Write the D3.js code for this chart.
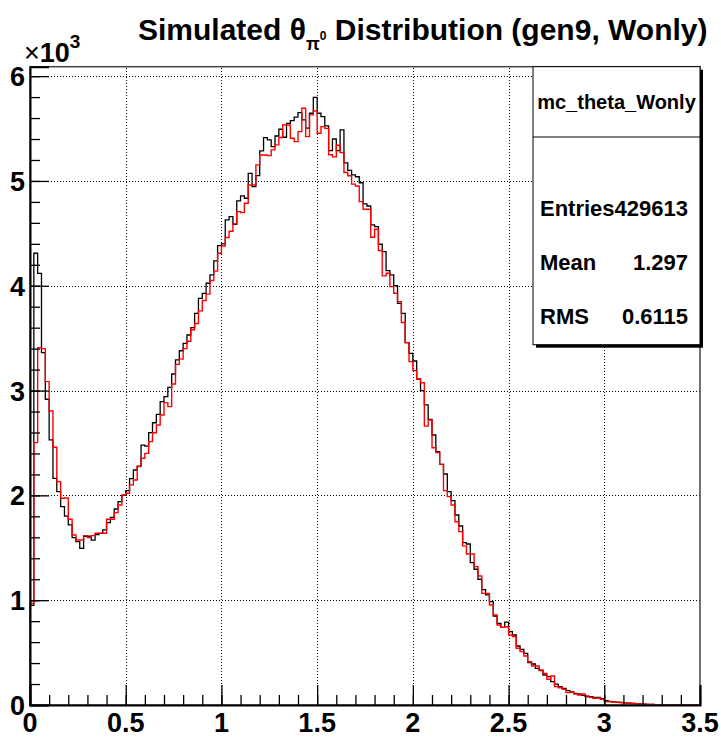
<!DOCTYPE html>
<html>
<head>
<meta charset="utf-8">
<script src="https://cdn.jsdelivr.net/npm/d3@7"></script>
<style>
  body { margin: 0; background: #fff; }
  svg text { font-family: "Liberation Sans", Arial, sans-serif; font-weight: bold; }
</style>
</head>
<body>
<div id="chartArea"></div>
<script>
// histogram binning (175 bins of 0.02 from 0 to 3.5)
var nBins = 175, xMin = 0, xMax = 3.5;

// mc_theta_Wonly (black)
var blackCounts = [950,4310,4119,3362,2917,2529,2163,2036,1892,1803,
  1718,1597,1559,1495,1610,1610,1574,1626,1638,1670,
  1740,1790,1870,1940,2000,2045,2160,2242,2280,2480,
  2470,2598,2693,2773,2894,2942,3031,3158,3292,3380,
  3450,3530,3600,3737,3880,3928,4024,4103,4237,4383,
  4400,4628,4660,4587,4809,4857,4835,5073,4946,5050,
  5286,5414,5391,5328,5429,5493,5417,5550,5576,5608,
  5652,5582,5503,5646,5798,5646,5614,5525,5290,5400,
  5290,5487,5172,5100,5057,5040,4983,4781,4761,4580,
  4564,4396,4326,4144,4103,4001,3832,3737,3457,3355,
  3282,3111,3000,2863,2725,2576,2417,2296,2204,2035,
  1950,1813,1708,1549,1536,1358,1295,1200,1100,1050,
  986,849,779,741,790,700,668,563,531,493,
  404,391,350,328,286,270,223,200,175,159,
  137,124,111,105,92,80,80,73,73,60,
  41,35,30,28,25,20,18,15,12,10,
  8,6,5,4,3,3,2,2,1,1,
  1,0,1,0,0];

// second histogram (red)
var redCounts = [970,2503,3410,3400,3085,2805,2459,2131,1972,1975,
  1772,1622,1574,1574,1616,1597,1616,1638,1640,1638,
  1772,1772,1835,1908,2004,2020,2100,2147,2274,2354,
  2401,2513,2598,2672,2767,2885,2847,3063,3250,3300,
  3400,3470,3580,3640,3760,3860,3920,4050,4140,4310,
  4380,4460,4520,4590,4707,4698,4787,4962,4962,5153,
  5248,5248,5242,5296,5344,5414,5534,5534,5407,5375,
  5471,5693,5423,5630,5668,5455,5518,5502,5250,5230,
  5340,5270,5080,5050,4970,4952,4803,4730,4730,4463,
  4539,4336,4094,4119,3992,3929,3849,3650,3457,3276,
  3190,3107,3075,2661,2719,2455,2408,2296,2045,1988,
  1908,1749,1654,1518,1441,1441,1320,1231,1065,1065,
  954,859,763,741,747,668,652,541,509,467,
  413,372,372,334,302,245,277,175,165,149,
  118,127,105,95,105,86,73,64,67,54,
  32,30,28,25,22,20,16,14,12,10,
  8,6,5,4,3,3,2,2,1,1,
  1,1,0,0,0];

var xTicks = [0, 0.5, 1, 1.5, 2, 2.5, 3, 3.5];
var xTickLabels = ["0", "0.5", "1", "1.5", "2", "2.5", "3", "3.5"];
var yTicks = [0, 1000, 2000, 3000, 4000, 5000, 6000];
var yTickLabels = ["0", "1", "2", "3", "4", "5", "6"];

var statsTitle = "mc_theta_Wonly";
var statsNames = ["Entries", "Mean", "RMS"];
var statsValues = ["429613", "1.297", "0.6115"];

var width = 721, height = 738;
var margin = {top: 66.7, right: 21, bottom: 33, left: 30};

var svg = d3.select('#chartArea').append('svg')
    .attr('width', width)
    .attr('height', height);

var x = d3.scaleLinear().domain([xMin, xMax]).range([margin.left, width - margin.right]);
var y = d3.scaleLinear().domain([0, 6090]).range([height - margin.bottom, margin.top]);

// grid
var grid = svg.append('g').attr('stroke', '#000').attr('stroke-width', 1).attr('stroke-dasharray', '1,2');
grid.selectAll('line.gx').data(xTicks.slice(1, -1)).enter().append('line')
    .attr('x1', function(d){ return Math.round(x(d)) + 0.5; })
    .attr('x2', function(d){ return Math.round(x(d)) + 0.5; })
    .attr('y1', y(0)).attr('y2', margin.top);
grid.selectAll('line.gy').data(yTicks.slice(1)).enter().append('line')
    .attr('y1', function(d){ return Math.round(y(d)) + 0.5; })
    .attr('y2', function(d){ return Math.round(y(d)) + 0.5; })
    .attr('x1', x(0)).attr('x2', x(xMax));

// histograms as step lines
var binW = (xMax - xMin) / nBins;
function stepPoints(counts) {
    var pts = [[xMin, 0]];
    counts.forEach(function(c, i){ pts.push([xMin + i * binW, c]); });
    pts.push([xMax, counts[counts.length - 1]]);
    return pts;
}
var line = d3.line()
    .x(function(d){ return x(d[0]); })
    .y(function(d){ return y(d[1]); })
    .curve(d3.curveStepAfter);

svg.append('path').datum(stepPoints(blackCounts))
    .attr('d', line).attr('fill', 'none').attr('stroke', '#000').attr('stroke-width', 1.3);
svg.append('path').datum(stepPoints(redCounts))
    .attr('d', line).attr('fill', 'none').attr('stroke', '#f00').attr('stroke-width', 1.4);

// frame
svg.append('rect')
    .attr('x', x(0)).attr('y', margin.top)
    .attr('width', x(xMax) - x(0)).attr('height', y(0) - margin.top)
    .attr('fill', 'none').attr('stroke', '#444').attr('stroke-width', 1.5);

// axes (ROOT-like ticks pointing inside)
var xAxis = d3.axisTop(x).tickValues(xTicks).tickSize(20).tickFormat('');
svg.append('g').attr('transform', 'translate(0,' + y(0) + ')').call(xAxis)
    .call(function(g){ g.select('.domain').attr('stroke-width', 2); });
var xMinor = d3.range(0, 36).map(function(i){ return i / 10; });
svg.append('g').attr('transform', 'translate(0,' + y(0) + ')')
    .call(d3.axisTop(x).tickValues(xMinor).tickSize(10).tickFormat(''))
    .call(function(g){ g.select('.domain').remove(); });

var yAxis = d3.axisRight(y).tickValues(yTicks).tickSize(19).tickFormat('');
svg.append('g').attr('transform', 'translate(' + x(0) + ',0)').call(yAxis)
    .call(function(g){ g.select('.domain').attr('stroke-width', 2); });
var yMinor = d3.range(0, 31).map(function(i){ return i * 200; });
svg.append('g').attr('transform', 'translate(' + x(0) + ',0)')
    .call(d3.axisRight(y).tickValues(yMinor).tickSize(10).tickFormat(''))
    .call(function(g){ g.select('.domain').remove(); });

svg.selectAll('.tick line').attr('stroke-width', 1.3);

// tick labels
svg.append('g').selectAll('text').data(xTicks).enter().append('text')
    .attr('x', function(d){ return x(d); })
    .attr('y', 732)
    .attr('text-anchor', 'middle')
    .style('font-size', '27px')
    .text(function(d, i){ return xTickLabels[i]; });
svg.append('g').selectAll('text').data(yTicks).enter().append('text')
    .attr('x', 25)
    .attr('y', function(d){ return y(d) + 10; })
    .attr('text-anchor', 'end')
    .style('font-size', '27px')
    .text(function(d, i){ return yTickLabels[i]; });

// exponent label
var expo = svg.append('text').attr('x', 24).attr('y', 62).style('font-size', '27px');
expo.append('tspan').style('font-weight', 'normal').text('\u00d7');
expo.append('tspan').text('10');
expo.append('tspan').attr('dy', -14).style('font-size', '19px').text('3');

// title
var title = svg.append('text').attr('x', 138).attr('y', 40).style('font-size', '30px');
title.append('tspan').text('Simulated \u03b8');
title.append('tspan').attr('dy', 10).style('font-size', '18px').text('\u03c0');
title.append('tspan').attr('dy', -10).style('font-size', '12px').text('0');
title.append('tspan').attr('dy', 0).text(' Distribution (gen9, Wonly)');

// stats box
var bx = 533, by = margin.top, bw = 167, bh = 278;
svg.append('rect').attr('x', bx + 3).attr('y', by + 3).attr('width', bw).attr('height', bh).attr('fill', '#000');
svg.append('rect').attr('x', bx).attr('y', by).attr('width', bw).attr('height', bh)
    .attr('fill', '#fff').attr('stroke', '#000').attr('stroke-width', 1);
svg.append('line').attr('x1', bx).attr('x2', bx + bw).attr('y1', 137).attr('y2', 137)
    .attr('stroke', '#000').attr('stroke-width', 1);
svg.append('text').attr('x', bx + bw / 2).attr('y', 109).attr('text-anchor', 'middle')
    .style('font-size', '20px').text(statsTitle);
var rowY = [216, 270, 324];
svg.append('g').selectAll('text').data(statsNames).enter().append('text')
    .attr('x', bx + 7).attr('y', function(d, i){ return rowY[i]; })
    .style('font-size', '22px').text(function(d){ return d; });
svg.append('g').selectAll('text').data(statsValues).enter().append('text')
    .attr('x', 688).attr('y', function(d, i){ return rowY[i]; })
    .attr('text-anchor', 'end')
    .style('font-size', '22px').text(function(d){ return d; });
</script>
</body>
</html>
